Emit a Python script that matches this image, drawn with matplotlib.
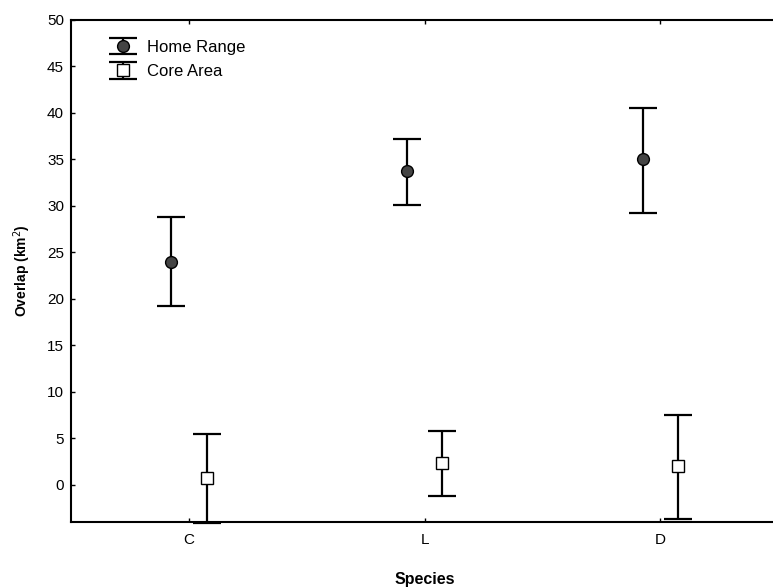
import matplotlib
matplotlib.use('Agg')
import matplotlib.pyplot as plt
import numpy as np

species = ['C', 'L', 'D']
home_mean = [24.0, 33.8, 35.0]
home_low = [19.2, 30.1, 29.2]
home_high = [28.8, 37.2, 40.5]
core_mean = [0.7, 2.4, 2.0]
core_low = [-4.1, -1.2, -3.7]
core_high = [5.5, 5.8, 7.5]
yticks = [0, 5, 10, 15, 20, 25, 30, 35, 40, 45, 50]

plt.rcParams.update({'font.family': ['Liberation Sans', 'DejaVu Sans'], 'font.size': 11})

fig = plt.figure(figsize=(7.73, 5.87), dpi=100)
ax = fig.add_axes([0.0919, 0.1107, 0.9146, 0.8553])

x = np.arange(1, len(species) + 1)
off = 0.075

hm = np.array(home_mean)
cm = np.array(core_mean)
home_err = [hm - np.array(home_low), np.array(home_high) - hm]
core_err = [cm - np.array(core_low), np.array(core_high) - cm]

ax.errorbar(x - off, hm, yerr=home_err, fmt='o', color='black', ecolor='black',
            elinewidth=1.6, capsize=10, capthick=1.6, markersize=8.5,
            markerfacecolor='#444444', markeredgecolor='black', label='Home Range', clip_on=False)
ax.errorbar(x + off, cm, yerr=core_err, fmt='s', color='black', ecolor='black',
            elinewidth=1.6, capsize=10, capthick=1.6, markersize=9,
            markerfacecolor='white', markeredgecolor='black',
            label='Core Area', clip_on=False)

ax.set_xlim(0.5, 3.5)
ax.set_ylim(-4, 50)
ax.set_xticks(x)
ax.set_xticklabels(species)
ax.set_yticks(yticks)
ax.tick_params(direction='in', top=True, right=True, length=3, width=1, pad=8, labelsize=11)
ax.tick_params(axis='y', pad=5)
for s in ax.spines.values():
    s.set_linewidth(1.5)

ax.set_ylabel('Overlap (km$^2$)', weight='bold', fontsize=10, labelpad=10)
ax.set_xlabel('Species', weight='bold', fontsize=11.5, labelpad=18)

ax.legend(loc='upper left', frameon=False, bbox_to_anchor=(0.028, 0.99),
          handletextpad=0.45, labelspacing=0.55, fontsize=12)

plt.savefig('out.png', dpi=100)
